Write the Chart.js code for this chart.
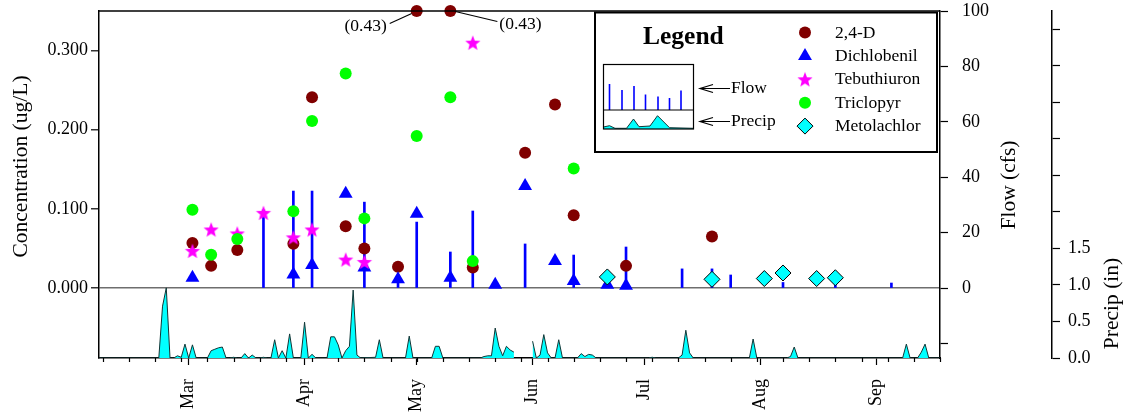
<!DOCTYPE html>
<html>
<head>
<meta charset="utf-8">
<script src="https://cdn.jsdelivr.net/npm/chart.js@4.4.0/dist/chart.umd.min.js"></script>
<style>
  html, body { margin: 0; padding: 0; background: #fff; }
  #wrap { width: 1131px; height: 416px; position: relative; }
</style>
</head>
<body>
<div id="wrap"><canvas id="chart" width="1131" height="416"></canvas></div>
<script>
// ---- x axis: day of year ----
const monthNames = ['Mar', 'Apr', 'May', 'Jun', 'Jul', 'Aug', 'Sep'];
const monthStartDays = [60, 91, 121, 152, 182, 213, 244];
const weekTickStart = 37;

// ---- tick labels ----
const concTicks = [0, 0.1, 0.2, 0.3];
const concTickLabels = ['0.000', '0.100', '0.200', '0.300'];
const flowTicks = [-20, 0, 20, 40, 60, 80, 100];
const flowTickLabels = ['', '0', '20', '40', '60', '80', '100'];
const precipTicks = [0, 0.5, 1, 1.5, 2, 2.5, 3, 3.5, 4, 4.5];
const precipTickLabels = ['0.0', '0.5', '1.0', '1.5', '', '', '', '', '', ''];

// ---- pesticide concentrations (ug/L) by sample day ----
const d24dDays = [61, 66, 73, 88, 93, 102, 107, 116, 121, 130, 136, 150, 158, 163, 177, 200];
const d24dConc = [0.057, 0.028, 0.048, 0.056, 0.241, 0.078, 0.050, 0.027, 0.43, 0.43, 0.026, 0.171, 0.232, 0.092, 0.028, 0.065];

const dichlobenilDays = [61, 88, 93, 102, 107, 116, 121, 130, 142, 150, 158, 163, 172, 177];
const dichlobenilConc = [0.013, 0.017, 0.029, 0.119, 0.026, 0.011, 0.094, 0.013, 0.004, 0.129, 0.034, 0.009, 0.004, 0.003];

const tebuthiuronDays = [61, 66, 73, 80, 88, 93, 102, 107, 136];
const tebuthiuronConc = [0.047, 0.074, 0.069, 0.095, 0.064, 0.074, 0.036, 0.033, 0.310];

const triclopyrDays = [61, 66, 73, 88, 93, 102, 107, 121, 130, 136, 163];
const triclopyrConc = [0.099, 0.042, 0.062, 0.097, 0.211, 0.271, 0.088, 0.192, 0.241, 0.034, 0.151];

const metolachlorDays = [172, 200, 214, 219, 228, 233];
const metolachlorConc = [0.014, 0.011, 0.012, 0.019, 0.012, 0.013];

// ---- stream flow at sampling (cfs) ----
const flowDays = [80, 88, 93, 107, 116, 121, 130, 136, 150, 163, 177, 192, 200, 205, 219, 233, 248];
const flowCfs  = [28.2, 35, 35, 31, 4, 23.8, 13, 27.8, 15.9, 11.9, 14.8, 6.9, 6.9, 4.7, 2, 2, 1.8];

// ---- daily precipitation (in); null marks missing record ----
const precipDays = [36, 52, 53, 54, 55, 56, 57, 58, 59, 60, 61, 62, 65, 66, 67, 68, 69, 70, 71, 72, 73, 74, 75, 76, 77, 78, 79, 80, 81, 82,
  83, 84, 85, 86, 87, 88, 90, 91, 92, 93, 94, 97, 98, 99, 100, 101, 102, 103, 104, 105, 106, 110, 111, 112, 118, 119, 120,
  125, 126, 127, 128, 138, 139, 140, 141, 142, 143, 144, 145, 146, 147, 149, 152, 153, 154, 155, 156, 157, 158, 159, 160,
  164, 165, 166, 167, 168, 169, 183, 184, 185, 191, 192, 193, 194, 195, 210, 211, 212, 220, 221, 222, 223, 251, 252, 253,
  255, 256, 257, 258, 261];
const precipIn = [0, 0, 0.71, 0.96, 0, 0, 0.03, 0.01, 0.19, 0, 0.18, 0, 0, 0.10, 0.12, 0.14, 0.15, 0, 0, 0.01, 0, 0, 0.06, 0, 0.04, 0, 0, 0.01, 0, 0,
  0.25, 0, 0.10, 0, 0.33, 0, 0, 0.49, 0, 0.05, 0, 0, 0.29, 0.29, 0.18, 0, 0.10, 0.16, 0.93, 0.04, 0, 0.01, 0.25, 0, 0, 0.30, 0,
  0, 0.16, 0.16, 0, 0, 0.02, 0.03, 0.03, 0.41, 0.16, 0.03, 0.16, 0.11, 0.08, null, 0.23, 0, 0.04, 0.32, 0.07, 0, 0, 0.25, 0,
  0, 0.06, 0.02, 0.05, 0.04, 0, 0, 0.01, 0, 0, 0.04, 0.38, 0.07, 0, 0, 0.26, 0, 0, 0.02, 0.15, 0, 0, 0.19, 0,
  0, 0.08, 0.19, 0, 0];

// ---- scale ranges: concentration/flow share the upper panel, precip fills the lower one ----
const X_MIN = 36, X_MAX = 261;
const CONC_MIN = -0.0884, CONC_MAX = 0.35;
const FLOW_MIN = -25.27, FLOW_MAX = 100;
const PRECIP_MIN = 0, PRECIP_MAX = 4.75;

const SERIF = "'Liberation Serif', 'Times New Roman', serif";
Chart.defaults.font.family = SERIF;
Chart.defaults.font.size = 18;
Chart.defaults.color = '#000';

const pts = (days, vals) => days.map((d, i) => ({ x: d, y: vals[i] }));
// off-scale concentrations are pinned to the top edge and annotated with their value
const pinned = (days, vals) => days.map((d, i) => ({ x: d, y: Math.min(vals[i], CONC_MAX) }));

// five-point star marker
function makeStar(outer, inner, color) {
  const c = document.createElement('canvas');
  const s = Math.ceil(outer * 2 + 2);
  c.width = s; c.height = s;
  const g = c.getContext('2d');
  g.translate(s / 2, s / 2 + outer * 0.1);
  g.beginPath();
  for (let k = 0; k < 10; k++) {
    const r = k % 2 === 0 ? outer : inner;
    const a = -Math.PI / 2 + k * Math.PI / 5;
    const px = r * Math.cos(a), py = r * Math.sin(a);
    if (k === 0) g.moveTo(px, py); else g.lineTo(px, py);
  }
  g.closePath();
  g.fillStyle = color;
  g.fill();
  return c;
}
const starImg = makeStar(8, 3.4, '#ff00ff');

const scatterSeries = [
  { label: '2,4-D', data: pinned(d24dDays, d24dConc), pointStyle: 'circle', pointRadius: 6,
    backgroundColor: '#800000', borderColor: '#800000', borderWidth: 0, order: 5 },
  { label: 'Dichlobenil', data: pts(dichlobenilDays, dichlobenilConc), pointStyle: 'triangle', pointRadius: 8,
    backgroundColor: '#0000ff', borderColor: '#0000ff', borderWidth: 0, order: 4 },
  { label: 'Tebuthiuron', data: pts(tebuthiuronDays, tebuthiuronConc), pointStyle: starImg, pointRadius: 8,
    backgroundColor: '#ff00ff', borderColor: '#ff00ff', borderWidth: 0, order: 3 },
  { label: 'Triclopyr', data: pts(triclopyrDays, triclopyrConc), pointStyle: 'circle', pointRadius: 6,
    backgroundColor: '#00ff00', borderColor: '#00ff00', borderWidth: 0, order: 2 },
  { label: 'Metolachlor', data: pts(metolachlorDays, metolachlorConc), pointStyle: 'rectRot', pointRadius: 8,
    backgroundColor: '#00ffff', borderColor: '#000000', borderWidth: 1, order: 1 }
].map(s => Object.assign({
  type: 'scatter', xAxisID: 'x', yAxisID: 'yConc', clip: false,
  pointBackgroundColor: s.backgroundColor, pointBorderColor: s.borderColor, pointBorderWidth: s.borderWidth,
  pointHoverRadius: s.pointRadius
}, s));

const datasets = [
  { type: 'bar', label: 'Flow', data: pts(flowDays, flowCfs), xAxisID: 'x', yAxisID: 'yFlow',
    backgroundColor: '#0000ff', borderWidth: 0, barThickness: 2, order: 7 },
  { type: 'line', label: 'Precip', data: pts(precipDays, precipIn), xAxisID: 'x', yAxisID: 'yPrecip',
    fill: 'origin', backgroundColor: '#00ffff', borderColor: '#123636', borderWidth: 1,
    pointRadius: 0, pointHoverRadius: 0, tension: 0, spanGaps: false, order: 6 },
  ...scatterSeries
];

function drawMarker(ctx, ds, x, y) {
  ctx.save();
  ctx.fillStyle = ds.backgroundColor;
  ctx.strokeStyle = ds.borderColor;
  ctx.lineWidth = ds.borderWidth;
  Chart.helpers.drawPoint(ctx, { pointStyle: ds.pointStyle, radius: ds.pointRadius, rotation: 0, borderWidth: ds.borderWidth }, x, y);
  ctx.restore();
}

const decorPlugin = {
  id: 'decor',
  afterDraw(chart) {
    const ctx = chart.ctx;
    const area = chart.chartArea;
    const xs = chart.scales.x;
    ctx.save();

    // top frame line
    ctx.strokeStyle = '#000';
    ctx.lineWidth = 1.5;
    ctx.beginPath();
    ctx.moveTo(area.left, area.top);
    ctx.lineTo(area.right, area.top);
    ctx.stroke();

    // weekly minor ticks under the date axis
    ctx.lineWidth = 1.2;
    ctx.beginPath();
    for (let d = weekTickStart; d <= X_MAX; d += 7) {
      const px = Math.round(xs.getPixelForValue(d)) + 0.5;
      ctx.moveTo(px, area.bottom);
      ctx.lineTo(px, area.bottom + 4);
    }
    ctx.stroke();

    // rotated axis titles
    ctx.fillStyle = '#000';
    ctx.font = '21.5px ' + SERIF;
    ctx.textAlign = 'center';
    ctx.textBaseline = 'alphabetic';
    const titles = [
      { text: 'Concentration (ug/L)', x: 27, y: 166.5 },
      { text: 'Flow (cfs)', x: 1014.5, y: 185 },
      { text: 'Precip (in)', x: 1118, y: 303.5 }
    ];
    titles.forEach(t => {
      ctx.save();
      ctx.translate(t.x, t.y);
      ctx.rotate(-Math.PI / 2);
      ctx.fillText(t.text, 0, 0);
      ctx.restore();
    });

    // value callouts for 2,4-D samples above the axis range
    const meta = chart.getDatasetMeta(2);
    ctx.font = '17.5px ' + SERIF;
    ctx.textBaseline = 'middle';
    ctx.lineWidth = 1.1;
    let k = 0;
    d24dConc.forEach((v, i) => {
      if (v <= CONC_MAX) return;
      const el = meta.data[i];
      const txt = '(' + v.toFixed(2) + ')';
      ctx.beginPath();
      if (k % 2 === 0) {
        ctx.moveTo(el.x - 5, el.y + 2.5);
        ctx.lineTo(el.x - 27, el.y + 12.5);
        ctx.stroke();
        ctx.textAlign = 'right';
        ctx.fillText(txt, el.x - 30, el.y + 15.5);
      } else {
        ctx.moveTo(el.x + 5, el.y + 0.5);
        ctx.lineTo(el.x + 47, el.y + 10.5);
        ctx.stroke();
        ctx.textAlign = 'left';
        ctx.fillText(txt, el.x + 49, el.y + 13.5);
      }
      k++;
    });

    // legend box
    const L = { x: 595, y: 12.5, w: 342, h: 139.5 };
    ctx.fillStyle = '#fff';
    ctx.fillRect(L.x, L.y, L.w, L.h);
    ctx.strokeStyle = '#000';
    ctx.lineWidth = 2;
    ctx.strokeRect(L.x, L.y, L.w, L.h);

    ctx.fillStyle = '#000';
    ctx.font = 'bold 25.5px ' + SERIF;
    ctx.textAlign = 'left';
    ctx.textBaseline = 'alphabetic';
    ctx.fillText('Legend', L.x + 48, L.y + 31.5);

    // small sample panel: flow sticks above, precip area below
    const ix = L.x + 8.5, iy = L.y + 52, iw = 90, ih = 64.5, split = 45.5;
    const stickX = [6, 18.5, 30.5, 42, 54.5, 66, 77.5];
    const stickH = [26, 20, 24, 15.5, 13.5, 12, 19.5];
    ctx.strokeStyle = '#0000ff';
    ctx.lineWidth = 1.6;
    ctx.beginPath();
    stickX.forEach((sx, i) => {
      ctx.moveTo(ix + sx, iy + split);
      ctx.lineTo(ix + sx, iy + split - stickH[i]);
    });
    ctx.stroke();
    const area2 = [[0, 2], [6, 3.3], [11.5, 0.7], [23, 0.7], [30, 10], [35.5, 2.3], [46.5, 3], [54, 13.3], [66, 1.3], [90, 0.7]];
    ctx.beginPath();
    ctx.moveTo(ix, iy + ih);
    area2.forEach(p => ctx.lineTo(ix + p[0], iy + ih - p[1]));
    ctx.lineTo(ix + iw, iy + ih);
    ctx.closePath();
    ctx.fillStyle = '#00ffff';
    ctx.fill();
    ctx.beginPath();
    area2.forEach((p, i) => i ? ctx.lineTo(ix + p[0], iy + ih - p[1]) : ctx.moveTo(ix + p[0], iy + ih - p[1]));
    ctx.strokeStyle = '#123636';
    ctx.lineWidth = 1;
    ctx.stroke();
    ctx.strokeStyle = '#000';
    ctx.lineWidth = 1.2;
    ctx.strokeRect(ix, iy, iw, ih);
    ctx.beginPath();
    ctx.moveTo(ix, iy + split);
    ctx.lineTo(ix + iw, iy + split);
    ctx.stroke();

    // arrows pointing at the sample panel
    ctx.font = '17.5px ' + SERIF;
    ctx.textBaseline = 'middle';
    ctx.fillStyle = '#000';
    [['Flow', L.y + 76], ['Precip', L.y + 109]].forEach(([label, ay]) => {
      const ax = L.x + 105;
      ctx.beginPath();
      ctx.moveTo(ax + 30, ay);
      ctx.lineTo(ax, ay);
      ctx.moveTo(ax + 13, ay - 4);
      ctx.lineTo(ax, ay);
      ctx.lineTo(ax + 13, ay + 4);
      ctx.stroke();
      ctx.fillText(label, ax + 31, ay);
    });

    // series entries
    scatterSeries.forEach((ds, i) => {
      const ry = L.y + 20 + i * 23.4;
      drawMarker(ctx, ds, L.x + 210, ry);
      ctx.fillStyle = '#000';
      ctx.textAlign = 'left';
      ctx.fillText(ds.label, L.x + 240, ry + 0.5);
    });

    ctx.restore();
  }
};

const tickGrid = { drawOnChartArea: false, drawTicks: true, tickLength: 8, tickColor: '#000', tickWidth: 1.2 };
const axisBorder = { display: true, color: '#000', width: 1.5 };
// fixed box sizes; label overhang is already covered by the layout padding
const fixWidth = w => s => { s.width = w; s.paddingTop = 0; s.paddingBottom = 0; };

new Chart(document.getElementById('chart'), {
  type: 'scatter',
  data: { datasets },
  options: {
    responsive: false,
    animation: false,
    devicePixelRatio: 1,
    events: [],
    layout: { padding: { top: 11, left: 0, right: 0, bottom: 0 } },
    plugins: { legend: { display: false }, tooltip: { enabled: false } },
    scales: {
      x: {
        type: 'linear', position: 'bottom', min: X_MIN, max: X_MAX, offset: false,
        afterBuildTicks: s => { s.ticks = monthStartDays.map(v => ({ value: v })); },
        afterFit: s => { s.height = 58; s.paddingLeft = 0; s.paddingRight = 0; },
        grid: { drawOnChartArea: false, drawTicks: true, tickLength: 7, tickColor: '#000', tickWidth: 1.2, offset: false },
        border: axisBorder,
        ticks: { autoSkip: false, minRotation: 90, maxRotation: 90, padding: 14, callback: (v, i) => monthNames[i] }
      },
      yConc: {
        type: 'linear', position: 'left', min: CONC_MIN, max: CONC_MAX,
        afterBuildTicks: s => { s.ticks = concTicks.map(v => ({ value: v })); },
        afterFit: fixWidth(99),
        grid: {
          drawOnChartArea: true, drawTicks: true, tickLength: 8, tickColor: '#000', tickWidth: 1.2,
          color: c => (c.tick && c.tick.value === 0) ? '#6e6e6e' : 'rgba(0,0,0,0)',
          lineWidth: 1.6
        },
        border: axisBorder,
        ticks: { autoSkip: false, padding: 3, callback: (v, i) => concTickLabels[i] }
      },
      yFlow: {
        type: 'linear', position: 'right', weight: 0, min: FLOW_MIN, max: FLOW_MAX,
        afterBuildTicks: s => { s.ticks = flowTicks.map(v => ({ value: v })); },
        afterFit: fixWidth(112),
        grid: tickGrid,
        border: axisBorder,
        ticks: { autoSkip: false, padding: 14, callback: (v, i) => flowTickLabels[i] }
      },
      yPrecip: {
        type: 'linear', position: 'right', weight: 1, min: PRECIP_MIN, max: PRECIP_MAX,
        afterBuildTicks: s => { s.ticks = precipTicks.map(v => ({ value: v })); },
        afterFit: fixWidth(79),
        grid: tickGrid,
        border: axisBorder,
        ticks: { autoSkip: false, padding: 8, callback: (v, i) => precipTickLabels[i] }
      }
    }
  },
  plugins: [decorPlugin]
});
</script>
</body>
</html>
